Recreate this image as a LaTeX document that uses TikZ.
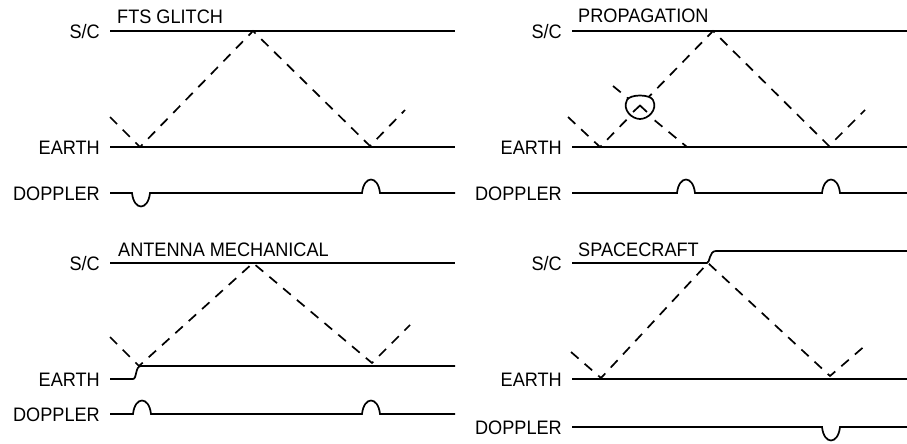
\documentclass[tikz,border=0pt]{standalone}
\usepackage{fontspec}
\setmainfont{Liberation Sans}
\newfontfamily\lblfont[FakeStretch=0.93]{Liberation Sans}
\begin{document}
\begin{tikzpicture}[x=1pt,y=-1pt,
  solidline/.style={line width=1.7pt},
  dashline/.style={line width=1.7pt, dash pattern=on 10pt off 8pt},
  lbl/.style={anchor=base east, inner sep=0pt, font=\lblfont\fontsize{19.5}{21}\selectfont},
  ttl/.style={anchor=base west, inner sep=0pt, font=\lblfont\fontsize{19.5}{21}\selectfont}]
\useasboundingbox (0,0) rectangle (907,444);

% ---------------- FTS GLITCH (top left)
\node[lbl] (sc1) at (100,38) {S/C};
\node[lbl] (ea1) at (100,154) {EARTH};
\node[lbl] (dp1) at (100,200) {DOPPLER};
\node[ttl] (t1) at (117,23.5) {FTS GLITCH};
\draw[solidline] (110,31) -- (455,31);
\draw[solidline] (110,147) -- (455,147);
\draw[solidline] (110,193) -- (132,193) .. controls (134,211) and (148,211) .. (150,193)
  -- (362,193) .. controls (364,175) and (378,175) .. (380,193) -- (455,193);
\draw[dashline] (110,117) -- (140,147) -- (253,31) -- (370,146) -- (405,110);

% ---------------- PROPAGATION (top right)
\node[lbl] (sc2) at (562,38) {S/C};
\node[lbl] (ea2) at (562,154) {EARTH};
\node[lbl] (dp2) at (562,200) {DOPPLER};
\node[ttl] (t2) at (578,23) {PROPAGATION};
\draw[solidline] (572,31) -- (907,31);
\draw[solidline] (572,147) -- (907,147);
\draw[solidline] (572,193) -- (677,193) .. controls (679,175) and (693,175) .. (695,193)
  -- (822,193) .. controls (824,175) and (838,175) .. (840,193) -- (907,193);
\draw[dashline] (568,117) -- (600,147) -- (713,31) -- (829,146) -- (865,110);
\draw[dashline] (613,86) -- (687,147);
\draw[solidline, fill=white] (627,100) .. controls (630,94) and (650,94) .. (653,100)
  .. controls (658,110) and (648,119) .. (640,119)
  .. controls (632,119) and (622,110) .. (627,100) -- cycle;
\draw[solidline] (633,112) -- (640,105.5) -- (647,112);

% ---------------- ANTENNA MECHANICAL (bottom left)
\node[lbl] (sc3) at (100,270) {S/C};
\node[lbl] (ea3) at (100,386) {EARTH};
\node[lbl] (dp3) at (100,421) {DOPPLER};
\node[ttl] (t3) at (118,256) {ANTENNA MECHANICAL};
\draw[solidline] (110,263) -- (455,263);
\draw[solidline] (110,379) -- (133,379) .. controls (137,379) and (135,366) .. (141,366) -- (455,366);
\draw[solidline] (110,414) -- (133,414) .. controls (135,396) and (149,396) .. (151,414)
  -- (362,414) .. controls (364,396) and (378,396) .. (380,414) -- (455,414);
\draw[dashline] (110,337) -- (139,366) -- (253,263) -- (372,363) -- (410,325);

% ---------------- SPACECRAFT (bottom right)
\node[lbl] (sc4) at (562,270) {S/C};
\node[lbl] (ea4) at (562,386) {EARTH};
\node[lbl] (dp4) at (562,434) {DOPPLER};
\node[ttl] (t4) at (578,256) {SPACECRAFT};
\draw[solidline] (572,263) -- (707,263) .. controls (710,263) and (709,251) .. (716,251) -- (907,251);
\draw[solidline] (572,379) -- (907,379);
\draw[solidline] (572,427) -- (822,427) .. controls (824,445) and (838,445) .. (840,427) -- (907,427);
\draw[dashline] (571,352) -- (601,378) -- (708,263) -- (830,376) -- (867,344);
\end{tikzpicture}
\end{document}
